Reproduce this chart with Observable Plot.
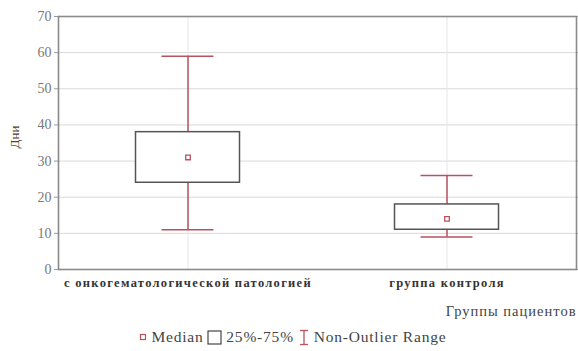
<!DOCTYPE html>
<html><head><meta charset="utf-8">
<script src="https://cdn.jsdelivr.net/npm/d3@7"></script>
<script src="https://cdn.jsdelivr.net/npm/@observablehq/plot@0.6"></script>
<style>
body{margin:0;background:#fff;width:578px;height:351px;overflow:hidden;position:relative}
#legend{position:absolute;left:0;top:327px;width:578px;text-align:center;font-family:"Liberation Serif",serif;font-size:15.5px;color:#444;padding-left:6px;box-sizing:border-box;white-space:nowrap}
#legend span{vertical-align:middle;letter-spacing:0.8px}
#legend svg{vertical-align:middle}
g[aria-label="x-axis tick label"] text{letter-spacing:1.3px}
g.xlab text{letter-spacing:1px}
</style></head><body>
<div id="chart"></div>
<div id="legend"></div>
<script>
const groups = ["с онкогематологической патологией", "группа контроля"];
const medians = [31, 14];
const q1 = [24, 11];
const q3 = [38, 18];
const mins = [11, 9];
const maxs = [59, 26];
const yTicks = [0, 10, 20, 30, 40, 50, 60, 70];
const xLabel = "Группы пациентов";
const yLabel = "Дни";
const legendItems = ["Median", "25%-75%", "Non-Outlier Range"];

const whisker = "#b9525f";
const data = groups.map((g, i) => ({g, med: medians[i], q1: q1[i], q3: q3[i], lo: mins[i], hi: maxs[i]}));

const W = 578, H = 325;
const bw = (W - 58 - 2) / groups.length;
const serif = "Liberation Serif, serif";

const chart = Plot.plot({
  width: W, height: H,
  marginLeft: 58, marginRight: 2, marginTop: 16, marginBottom: H - 269,
  style: {fontFamily: serif, background: "#fff"},
  x: {type: "band", domain: groups, padding: 0, label: null},
  y: {domain: [0, 70], ticks: yTicks, label: null},
  marks: [
    Plot.gridY(yTicks, {stroke: "#d8d8d8", strokeOpacity: 1}),
    Plot.gridX(groups, {stroke: "#e6e6e6", strokeOpacity: 1}),
    Plot.axisY(yTicks, {tickSize: 4, tickPadding: 3, fontSize: 14, fontFamily: serif, fill: "#777", stroke: "#999", label: null}),
    Plot.axisY(yTicks, {anchor: "right", tickSize: 3, stroke: "#999", tickFormat: () => "", label: null}),
    Plot.axisX(groups, {tickSize: 0, tickPadding: 9, fontSize: 12.5, fontFamily: serif, fontWeight: "bold", fill: "#333", label: null}),
    Plot.ruleX(data, {x: "g", y1: "lo", y2: "q1", stroke: whisker, strokeWidth: 1.5}),
    Plot.ruleX(data, {x: "g", y1: "q3", y2: "hi", stroke: whisker, strokeWidth: 1.5}),
    Plot.tickY(data, {x: "g", y: "lo", stroke: whisker, strokeWidth: 1.5, insetLeft: (bw - 52) / 2, insetRight: (bw - 52) / 2}),
    Plot.tickY(data, {x: "g", y: "hi", stroke: whisker, strokeWidth: 1.5, insetLeft: (bw - 52) / 2, insetRight: (bw - 52) / 2}),
    Plot.barY(data, {x: "g", y1: "q1", y2: "q3", fill: "#fff", stroke: "#555", strokeWidth: 1.5, insetLeft: (bw - 104) / 2, insetRight: (bw - 104) / 2}),
    Plot.dot(data, {x: "g", y: "med", symbol: "square", r: 2.6, stroke: whisker, strokeWidth: 1.3, fill: "none"}),
    Plot.frame({stroke: "#8a8a8a", strokeWidth: 1.6}),
    Plot.text([xLabel], {frameAnchor: "bottom-right", dy: 42, dx: 0, lineAnchor: "middle", textAnchor: "end", fontSize: 14.5, fontFamily: serif, fill: "#444", className: "xlab"}),
    Plot.text([yLabel], {frameAnchor: "left", rotate: -90, dx: -44, dy: -6, lineAnchor: "middle", textAnchor: "middle", fontSize: 13, fontFamily: serif, fill: "#444"})
  ]
});
document.getElementById("chart").append(chart);

const lg = document.getElementById("legend");
lg.innerHTML =
  `<svg width="10" height="10"><rect x="2.5" y="2.5" width="5" height="5" fill="none" stroke="${whisker}" stroke-width="1.2"/></svg> <span>${legendItems[0]}</span> ` +
  `<svg width="15" height="15"><rect x="1" y="1" width="13" height="13" fill="none" stroke="#333" stroke-width="1.1"/></svg> <span>${legendItems[1]}</span> ` +
  `<svg width="12" height="17"><line x1="2" x2="10" y1="1.5" y2="1.5" stroke="${whisker}" stroke-width="1.3"/><line x1="6" x2="6" y1="1.5" y2="15.5" stroke="${whisker}" stroke-width="1.3"/><line x1="2" x2="10" y1="15.5" y2="15.5" stroke="${whisker}" stroke-width="1.3"/></svg> <span>${legendItems[2]}</span>`;
</script>
</body></html>
